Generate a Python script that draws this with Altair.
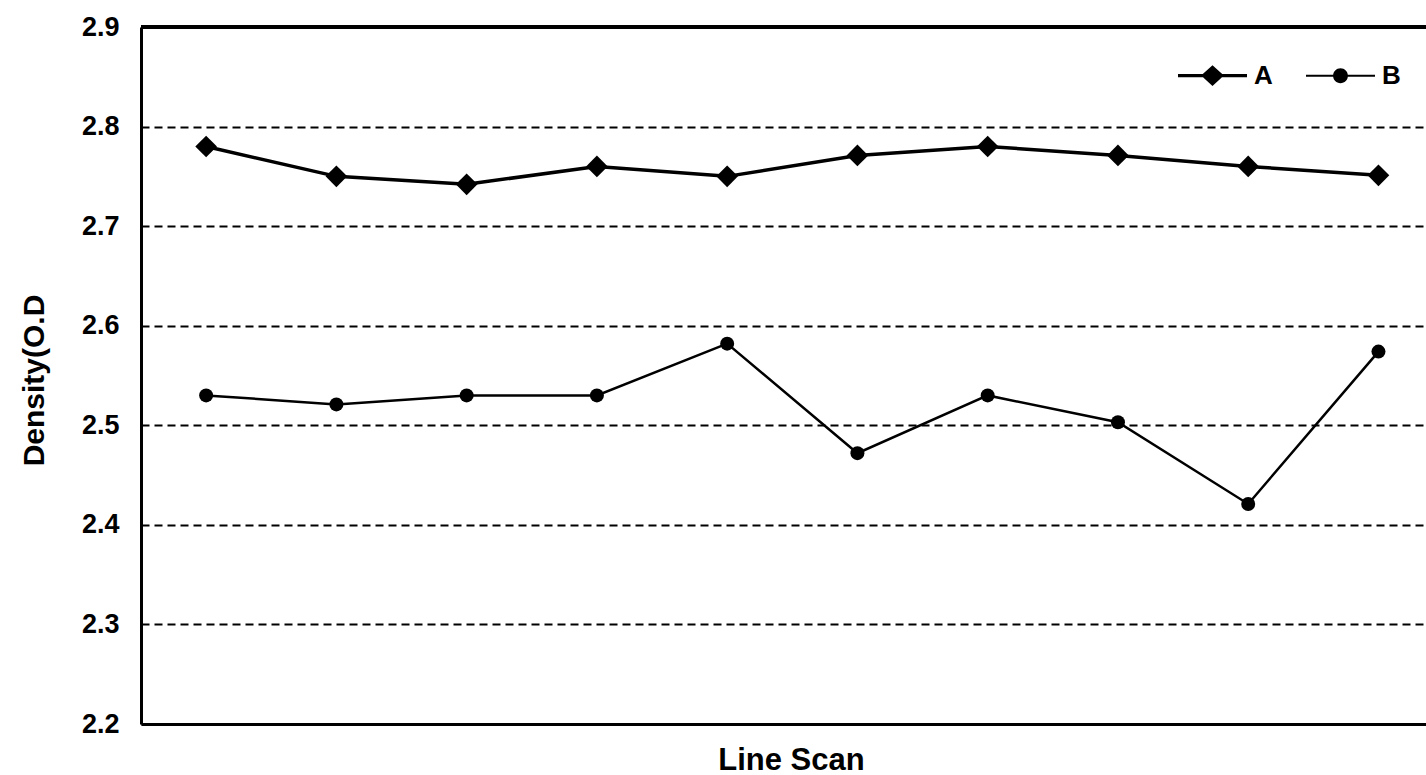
import altair as alt
import pandas as pd

scan = list(range(1, 11))
a_vals = [2.78, 2.75, 2.742, 2.76, 2.75, 2.771, 2.78, 2.771, 2.76, 2.751]
b_vals = [2.53, 2.521, 2.53, 2.53, 2.582, 2.472, 2.53, 2.503, 2.421, 2.574]
series_names = ["A", "B"]
y_ticks = [2.2, 2.3, 2.4, 2.5, 2.6, 2.7, 2.8, 2.9]

df = pd.DataFrame({
    "scan": scan * 2,
    "density": a_vals + b_vals,
    "series": ["A"] * len(a_vals) + ["B"] * len(b_vals),
})

FONT = "Liberation Sans"

x_enc = alt.X("scan:Q", scale=alt.Scale(domain=[0.5, 10.365], nice=False, zero=False),
              axis=alt.Axis(title="Line Scan", labels=False, ticks=False, grid=False,
                            domainColor="black", domainWidth=3,
                            titleFont=FONT, titleFontSize=31, titleFontWeight="bold",
                            titleColor="black", titleX=650, titleY=45,
                            titleAlign="center", titleBaseline="alphabetic"))
y_enc = alt.Y("density:Q", scale=alt.Scale(domain=[2.2, 2.9], nice=False, zero=False),
              axis=alt.Axis(title="Density(O.D", values=y_ticks, format=".1f",
                            labelFont=FONT, labelFontSize=27, labelFontWeight="bold",
                            labelColor="black", labelPadding=22, labelFlush=False,
                            labelOverlap=False, ticks=False,
                            grid=True, gridDash=[8, 5], gridColor="black", gridWidth=2,
                            gridOpacity=1, domainColor="black", domainWidth=3,
                            titleFont=FONT, titleFontSize=30, titleFontWeight="bold",
                            titleColor="black", titleAngle=-90, titleX=-107, titleY=353,
                            titleAlign="center", titleBaseline="middle"))

base = alt.Chart(df)

line_a = base.transform_filter("datum.series == 'A'").mark_line(
    color="black", strokeWidth=3.5).encode(x=x_enc, y=y_enc)
line_b = base.transform_filter("datum.series == 'B'").mark_line(
    color="black", strokeWidth=2.5).encode(x=x_enc, y=y_enc)
pts_a = base.transform_filter("datum.series == 'A'").mark_point(
    shape="diamond", filled=True, color="black", size=470, opacity=1).encode(x=x_enc, y=y_enc)
pts_b = base.transform_filter("datum.series == 'B'").mark_point(
    shape="circle", filled=True, color="black", size=196, opacity=1).encode(x=x_enc, y=y_enc)

# legend symbols: a filled thin bar (the line) plus the marker, all clockwise
path_a = "M-1,-0.045H1V0.045H-1ZM0,-0.3L0.33,0L0,0.3L-0.33,0Z"
path_b = "M-1,-0.032H1V0.032H-1ZM0.215,0A0.215,0.215,0,1,1,-0.215,0A0.215,0.215,0,1,1,0.215,0Z"

legend_layer = base.transform_filter("datum.series == 'none'").mark_point(
    filled=True, color="black", opacity=1
).encode(
    x=x_enc, y=y_enc,
    shape=alt.Shape("series:N",
                    scale=alt.Scale(domain=series_names, range=[path_a, path_b]),
                    legend=alt.Legend(title=None, orient="none", legendX=1036, legendY=13,
                                      direction="horizontal", symbolSize=4761,
                                      symbolFillColor="black", symbolOpacity=1,
                                      labelFont=FONT, labelFontSize=26,
                                      labelFontWeight="bold", labelColor="black",
                                      labelOffset=6, columnPadding=30, padding=0)),
)

top_border = alt.Chart(df).mark_rule(color="black", strokeWidth=3).encode(
    y=alt.datum(2.9, scale=alt.Scale(domain=[2.2, 2.9])))

chart = alt.layer(top_border, line_a, line_b, pts_a, pts_b, legend_layer).properties(
    width=1285, height=697,
    autosize=alt.AutoSizeParams(type="none"),
    padding={"left": 141, "top": 27, "right": 0, "bottom": 51},
).configure_view(stroke=None).configure(background="white")

chart.save("out.html", embed_options={"renderer": "svg", "actions": False})
